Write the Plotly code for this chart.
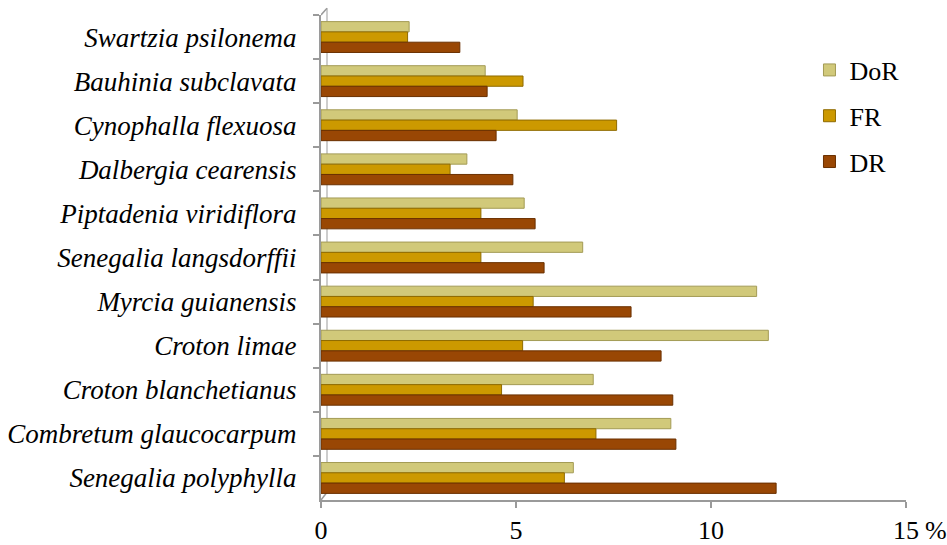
import plotly.graph_objects as go

# Species, listed top to bottom as they appear on the chart
species = [
    "Swartzia psilonema",
    "Bauhinia subclavata",
    "Cynophalla flexuosa",
    "Dalbergia cearensis",
    "Piptadenia viridiflora",
    "Senegalia langsdorffii",
    "Myrcia guianensis",
    "Croton limae",
    "Croton blanchetianus",
    "Combretum glaucocarpum",
    "Senegalia polyphylla",
]

# Relative dominance, frequency and density (%)
dor = [2.26, 4.21, 5.03, 3.74, 5.21, 6.71, 11.17, 11.47, 6.98, 8.97, 6.47]
fr = [2.22, 5.18, 7.58, 3.31, 4.10, 4.10, 5.44, 5.17, 4.63, 7.05, 6.24]
dr = [3.56, 4.26, 4.49, 4.92, 5.49, 5.72, 7.95, 8.72, 9.02, 9.10, 11.67]

series = [
    ("DoR", dor, "#D1C97A", "#A39B55"),
    ("FR", fr, "#CC9900", "#8F6B00"),
    ("DR", dr, "#994704", "#6A3000"),
]

x_ticks = [0, 5, 10, 15]

serif = "Liberation Serif"
axis_grey = "#9A9A9A"

fig = go.Figure()
for name, vals, color, edge in series:
    fig.add_trace(go.Bar(
        name=name,
        y=species,
        x=vals,
        orientation="h",
        legendgroup=name,
        marker=dict(color=color, line=dict(color=edge, width=1)),
    ))

# Back wall edge of the 3-D frame
fig.add_shape(type="line", xref="x", yref="paper",
              xsizemode="pixel", xanchor=0, x0=6, x1=6,
              y0=0.016, y1=1.014,
              line=dict(color="#BDBDBD", width=1.5), layer="below")
fig.add_shape(type="line", xref="x", yref="paper",
              xsizemode="pixel", xanchor=0, x0=0, x1=6,
              y0=0.0, y1=0.016,
              line=dict(color=axis_grey, width=1.5), layer="below")
fig.add_shape(type="line", xref="x", yref="paper",
              xsizemode="pixel", xanchor=0, x0=0, x1=6,
              y0=1.0, y1=1.014,
              line=dict(color=axis_grey, width=1.5), layer="below")

# Unit label next to the last tick
fig.add_annotation(
    text="%", x=15, y=0, xref="x", yref="paper",
    xanchor="left", yanchor="top", xshift=17, yshift=-14,
    showarrow=False, font=dict(family=serif, size=26, color="black"),
)

fig.update_layout(
    width=947, height=545,
    margin=dict(l=321, r=41, t=15, b=45),
    paper_bgcolor="white", plot_bgcolor="white",
    barmode="group", bargap=0.3, bargroupgap=0,
    font=dict(family=serif, color="black"),
    legend=dict(
        x=0.835, y=0.935, xanchor="left", yanchor="top",
        traceorder="grouped", tracegroupgap=9,
        font=dict(family=serif, size=26, color="black"),
        bgcolor="rgba(0,0,0,0)",
    ),
    xaxis=dict(
        range=[0, 15], tickvals=x_ticks, ticktext=[str(v) for v in x_ticks],
        showgrid=False, zeroline=False,
        showline=True, linecolor=axis_grey, linewidth=2,
        ticks="outside", ticklen=6, tickcolor=axis_grey, tickwidth=2,
        tickfont=dict(family=serif, size=26, color="black"),
        ticklabelstandoff=0, automargin=False,
    ),
    yaxis=dict(
        autorange="reversed",
        showgrid=False, zeroline=False,
        showline=True, linecolor=axis_grey, linewidth=2,
        ticks="outside", ticklen=6, tickcolor=axis_grey, tickwidth=2,
        tickson="boundaries",
        tickfont=dict(family=serif, size=27, color="black", style="italic"),
        ticklabelstandoff=17, automargin=False,
    ),
)

fig.write_html("out.html")
